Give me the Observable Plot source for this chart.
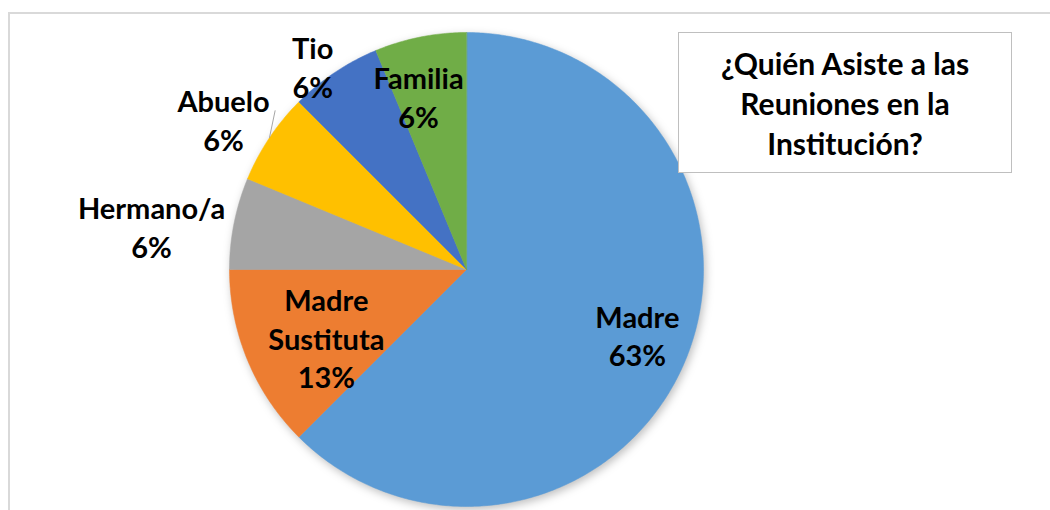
<!DOCTYPE html>
<html>
<head>
<meta charset="utf-8">
<script src="https://cdn.jsdelivr.net/npm/d3@7"></script>
<script src="https://cdn.jsdelivr.net/npm/@observablehq/plot@0.6"></script>
<style>
  html, body { margin: 0; padding: 0; background: #fff; }
  #wrap { position: relative; width: 1050px; height: 510px; overflow: hidden; font-family: Lato, "Open Sans", sans-serif; }
  #frame { position: absolute; left: 8px; top: 12px; width: 1100px; height: 600px; border: 2px solid #D9D9D9; box-sizing: border-box; }
  #chart { position: absolute; left: 0; top: 0; }
  #title { position: absolute; left: 678px; top: 32px; width: 334px; height: 141px; box-sizing: border-box;
           border: 1.5px solid #BFBFBF; background: #fff; display: flex; align-items: center; justify-content: center;
           text-align: center; font-weight: 700; font-size: 30px; line-height: 40px; color: #000; }
  svg g[aria-label="line"] { filter: drop-shadow(2px 3px 4px rgba(0,0,0,0.25)); }
</style>
</head>
<body>
<div id="wrap">
  <div id="frame"></div>
  <div id="chart"></div>
  <div id="title">¿Quién Asiste a las<br>Reuniones en la<br>Institución?</div>
</div>
<script>
// Data
const categories = ["Madre", "Madre Sustituta", "Hermano/a", "Abuelo", "Tio", "Familia"];
const labelNames = ["Madre", "Madre\nSustituta", "Hermano/a", "Abuelo", "Tio", "Familia"];
const values = [10, 2, 1, 1, 1, 1];
const colors = ["#5B9BD5", "#ED7D31", "#A5A5A5", "#FFC000", "#4472C4", "#70AD47"];
// label placement (angle offset in degrees, radius as fraction of pie radius)
const labelAngleShift = [-1.4, -3.7, -3.6, -2.2, -3.5, -4.3];
const labelRadius = [0.773, 0.659, 1.341, 1.203, 1.072, 0.754];

const total = d3.sum(values);
const pie = d3.pie().sort(null).value(d => d)(values);

// slice outlines
const pts = [];
pie.forEach((p, i) => {
  const a0 = p.startAngle, a1 = p.endAngle;
  pts.push({key: categories[i], x: 0, y: 0, c: colors[i]});
  const n = Math.max(8, Math.ceil((a1 - a0) / 0.01));
  for (let k = 0; k <= n; k++) {
    const a = a0 + (a1 - a0) * k / n;
    pts.push({key: categories[i], x: Math.sin(a), y: Math.cos(a), c: colors[i]});
  }
});

const labels = pie.map((p, i) => {
  const a = (p.startAngle + p.endAngle) / 2 + labelAngleShift[i] * Math.PI / 180;
  const r = labelRadius[i];
  const pct = Math.round(values[i] / total * 100) + "%";
  return {x: r * Math.sin(a), y: r * Math.cos(a), text: labelNames[i] + "\n" + pct};
});

// leader line for Abuelo
const ab = pie[3];
const abMid = (ab.startAngle + ab.endAngle) / 2;
const abLab = abMid + 6 * Math.PI / 180;
const leader = [{x1: 1.05 * Math.sin(abLab), y1: 1.05 * Math.cos(abLab), x2: Math.sin(abMid), y2: Math.cos(abMid)}];

const chart = Plot.plot({
  width: 1050,
  height: 510,
  margin: 0,
  x: {domain: [-1, 1], range: [229, 703], axis: null},
  y: {domain: [-1, 1], range: [506, 32], axis: null},
  style: {background: "transparent"},
  marks: [
    Plot.line(pts, {x: "x", y: "y", z: "key", fill: "c", stroke: "c", strokeWidth: 0.5, curve: "linear-closed"}),
    Plot.link(leader, {x1: "x1", y1: "y1", x2: "x2", y2: "y2", stroke: "#A6A6A6", strokeWidth: 1}),
    Plot.text(labels, {x: "x", y: "y", text: "text", fontSize: 29, fontWeight: 700, lineHeight: 1.33, dy: -1,
      fill: "#000", fontFamily: "Lato, 'Open Sans', sans-serif", textAnchor: "middle"})
  ]
});
document.getElementById("chart").appendChild(chart);
</script>
</body>
</html>
